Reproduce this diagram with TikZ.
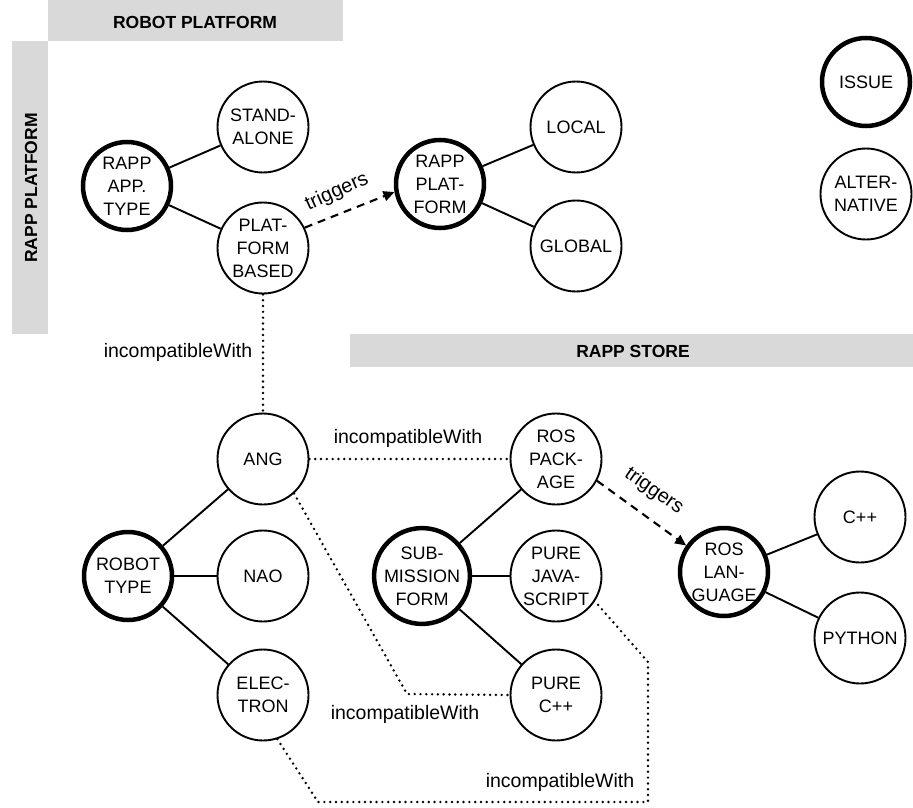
\documentclass[tikz,border=0pt]{standalone}
\usepackage{fontspec}
\setmainfont{Liberation Sans}
\usetikzlibrary{arrows.meta}
\definecolor{bargray}{gray}{0.85}
\tikzset{
 alt/.style={circle, draw, line width=1.9pt, minimum size=91pt, inner sep=0pt, align=center, font=\fontsize{18}{23}\selectfont},
 issue/.style={alt, line width=4.5pt, minimum size=88pt},
 link/.style={line width=1.9pt},
 incomp/.style={line width=2.7pt, line cap=round, dash pattern=on 0pt off 5.8pt},
 trig/.style={line width=2.1pt, dash pattern=on 8pt off 6pt, -{Triangle[length=11pt,width=10pt]}},
 lbl/.style={font=\fontsize{19.5}{22}\selectfont, inner sep=0pt},
 trlbl/.style={font=\fontsize{20}{22}\selectfont, inner sep=0pt},
 bartext/.style={font=\bfseries\fontsize{17.5}{20}\selectfont, inner sep=0pt}
}
\begin{document}
\begin{tikzpicture}[x=1pt,y=-1pt]
\useasboundingbox (0,0) rectangle (913,808);
% gray bars
\fill[bargray] (48,0) rectangle (343,41);
\fill[bargray] (12,41) rectangle (48,334);
\fill[bargray] (350,334) rectangle (913,367);
\node[bartext] (tRP) at (195,22) {ROBOT PLATFORM};
\node[bartext, rotate=90] (tRAPP) at (31,188) {RAPP PLATFORM};
\node[bartext] (tSTORE) at (633,351) {RAPP STORE};
% nodes
\node[issue] (RAPPAPP) at (127,186) {RAPP\\APP.\\TYPE};
\node[alt] (STAND) at (263,127) {STAND-\\ALONE};
\node[alt] (PLATB) at (263,248) {PLAT-\\FORM\\BASED};
\node[issue] (RAPPPLAT) at (440,184) {RAPP\\PLAT-\\FORM};
\node[alt] (LOCAL) at (576,127) {LOCAL};
\node[alt] (GLOBAL) at (576,246) {GLOBAL};
\node[issue] (ISSUE) at (866,82) {ISSUE};
\node[alt] (ALT) at (866,194) {ALTER-\\NATIVE};
\node[alt] (ANG) at (263,459) {ANG};
\node[issue] (ROBOT) at (128,576) {ROBOT\\TYPE};
\node[alt] (NAO) at (263,576) {NAO};
\node[alt] (ELEC) at (263,695) {ELEC-\\TRON};
\node[alt] (ROSPKG) at (556,459) {ROS\\PACK-\\AGE};
\node[issue] (SUBM) at (422,576) {SUB-\\MISSION\\FORM};
\node[alt] (PUREJS) at (556,576) {PURE\\JAVA-\\SCRIPT};
\node[alt] (PUREC) at (556,695) {PURE\\C++};
\node[issue] (ROSLANG) at (724,572) {ROS\\LAN-\\GUAGE};
\node[alt] (CPP) at (860,517) {C++};
\node[alt] (PYTHON) at (860,638) {PYTHON};
% solid links
\draw[link] (RAPPAPP) -- (STAND);
\draw[link] (RAPPAPP) -- (PLATB);
\draw[link] (RAPPPLAT) -- (LOCAL);
\draw[link] (RAPPPLAT) -- (GLOBAL);
\draw[link] (ROBOT) -- (ANG);
\draw[link] (ROBOT) -- (NAO);
\draw[link] (ROBOT) -- (ELEC);
\draw[link] (SUBM) -- (ROSPKG);
\draw[link] (SUBM) -- (PUREJS);
\draw[link] (SUBM) -- (PUREC);
\draw[link] (ROSLANG) -- (CPP);
\draw[link] (ROSLANG) -- (PYTHON);
% triggers
\draw[trig] (PLATB.26) -- (RAPPPLAT.190);
\draw[trig] (ROSPKG.-28) -- (ROSLANG.145);
\node[trlbl, rotate=24] (trg1) at (337,192) {triggers};
\node[trlbl, rotate=-35] (trg2) at (654,491) {triggers};
% incompatibilities
\coordinate (c1) at (407,694);
\coordinate (c2) at (318,802);
\coordinate (c3) at (648,802);
\coordinate (c4) at (648,662);
\draw[incomp] (PLATB) -- (ANG);
\draw[incomp] (ANG) -- (ROSPKG);
\draw[incomp] (ANG.-48) -- (c1) -- (PUREC.west);
\draw[incomp] (ELEC.-72) -- (c2) -- (c3) -- (c4) -- (PUREJS.-33);
\node[lbl] (i1) at (178,352) {incompatibleWith};
\node[lbl] (i2) at (408,438) {incompatibleWith};
\node[lbl] (i3) at (405,714) {incompatibleWith};
\node[lbl] (i4) at (560,782) {incompatibleWith};
\end{tikzpicture}
\end{document}
